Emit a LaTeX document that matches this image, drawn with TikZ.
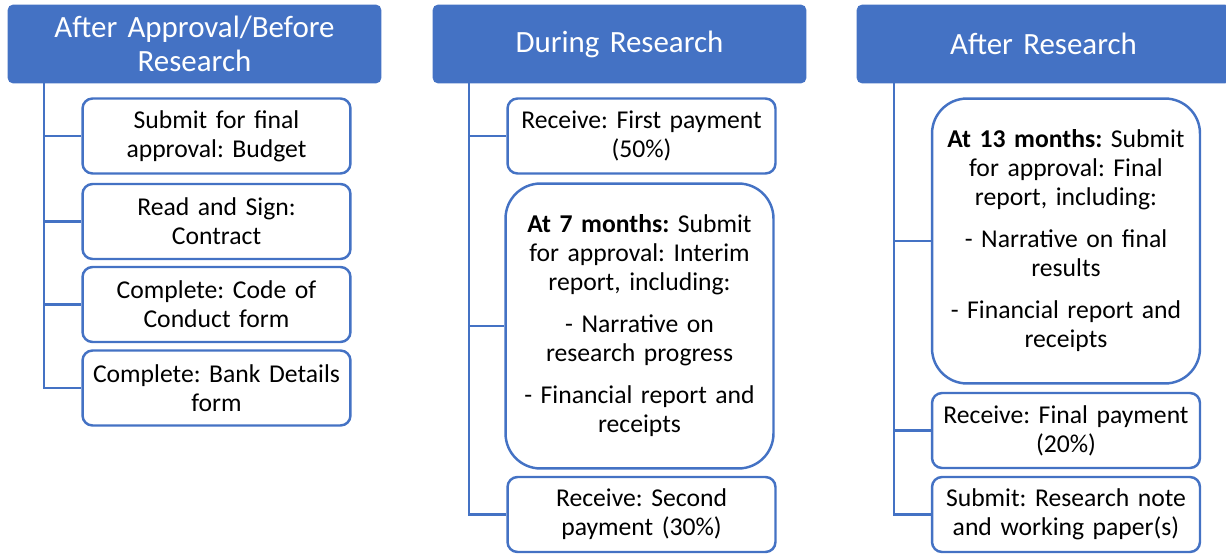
\documentclass[tikz,border=0pt]{standalone}
\usepackage{fontspec}
\setmainfont{Carlito}
\usetikzlibrary{positioning}
\definecolor{stageblue}{HTML}{4472C4}
\frenchspacing

\begin{document}
\begin{tikzpicture}[x=0.02cm,y=-0.02cm,
	stage/.style={fill=stageblue,draw=stageblue,text=white,rounded corners=0.1cm,
		minimum width=7.46cm,minimum height=1.56cm,text width=7.2cm,align=center,
		inner sep=0pt,font=\fontsize{17.6}{19.5}\selectfont},
	task/.style={draw=stageblue,line width=1.4pt,fill=white,rounded corners=0.2cm,
		minimum width=5.36cm,minimum height=1.5cm,text width=5.2cm,align=center,
		inner sep=0pt,font=\fontsize{14.6}{16.5}\selectfont},
	longtask/.style={task,rounded corners=0.7cm,minimum height=5.7cm},
	branch/.style={draw=stageblue,line width=1.4pt}]
		
		\useasboundingbox
		(0,0)
		rectangle
		(1226,554);
		
		\node[stage] (h1) at (194.5,44)
		{After Approval/Before\\Research};
		
		\node[stage] (h2) at (619.5,44)
		{During Research};
		
		\node[stage] (h3) at (1043.5,44)
		{After Research};
		
		\coordinate (t1) at (44,83);
		\coordinate (t2) at (469,83);
		\coordinate (t3) at (894,83);
		
		\node[task] (a1) at (216.5,136)
		{Submit for final\\approval: Budget};
		
		\node[task] (a2) at (216.5,221.5)
		{Read and Sign:\\Contract};
		
		\node[task] (a3) at (216.5,304.5)
		{Complete: Code of\\Conduct form};
		
		\node[task] (a4) at (216.5,388)
		{Complete: Bank Details\\form};
		
		\node[task] (b1) at (641.5,136)
		{Receive: First payment\\(50\%)};
		
		\node[longtask] (b2) at (639.5,326)
		{\textbf{At 7 months:} Submit\\for approval: Interim\\report, including:\\[0.26cm]
		- Narrative on\\research progress\\[0.26cm]
		- Financial report and\\receipts};
		
		\node[task] (b3) at (641.5,514.5)
		{Receive: Second\\payment (30\%)};
		
		\node[longtask] (c1) at (1066,241)
		{\textbf{At 13 months:} Submit\\for approval: Final\\report, including:\\[0.26cm]
		- Narrative on final\\results\\[0.26cm]
		- Financial report and\\receipts};
		
		\node[task] (c2) at (1066,430.5)
		{Receive: Final payment\\(20\%)};
		
		\node[task] (c3) at (1066,514.5)
		{Submit: Research note\\and working paper(s)};
		
		\draw[branch] (t1) |- (a1.west);
		\draw[branch] (t1) |- (a2.west);
		\draw[branch] (t1) |- (a3.west);
		\draw[branch] (t1) |- (a4.west);
		
		\draw[branch] (t2) |- (b1.west);
		\draw[branch] (t2) |- (b2.west);
		\draw[branch] (t2) |- (b3.west);
		
		\draw[branch] (t3) |- (c1.west);
		\draw[branch] (t3) |- (c2.west);
		\draw[branch] (t3) |- (c3.west);
		
	\end{tikzpicture}
\end{document}
